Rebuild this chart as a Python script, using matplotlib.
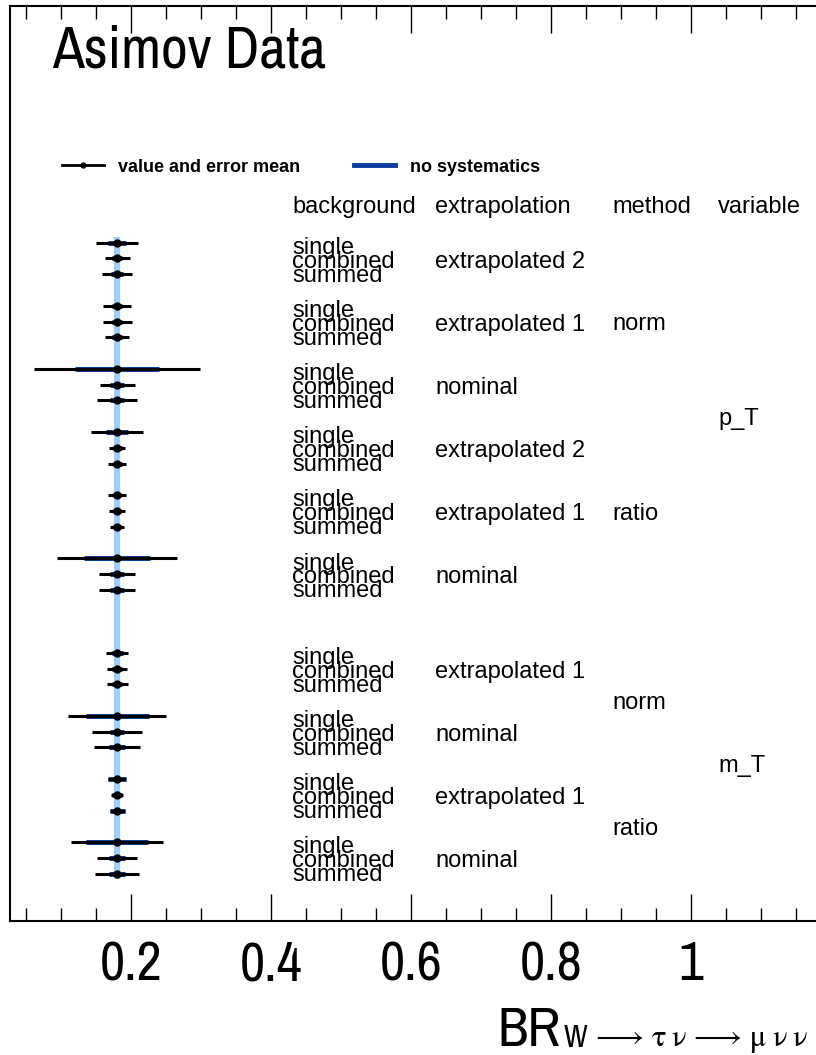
import matplotlib
matplotlib.use("Agg")
import matplotlib.pyplot as plt
from matplotlib import font_manager
from matplotlib.lines import Line2D
from matplotlib.ticker import MultipleLocator, FixedLocator, FixedFormatter

plt.rcParams['font.family'] = ['Liberation Sans', 'DejaVu Sans']
plt.rcParams['mathtext.fontset'] = 'stix'
plt.rcParams['mathtext.default'] = 'rm'

# ---- data -------------------------------------------------------------
backgrounds = ['single', 'combined', 'summed']
group_variable = ['p_T', 'p_T', 'p_T', 'p_T', 'p_T', 'p_T', 'm_T', 'm_T', 'm_T', 'm_T']
group_method = ['norm', 'norm', 'norm', 'ratio', 'ratio', 'ratio', 'norm', 'norm', 'ratio', 'ratio']
group_extrapolation = ['extrapolated 2', 'extrapolated 1', 'nominal',
                       'extrapolated 2', 'extrapolated 1', 'nominal',
                       'extrapolated 1', 'nominal',
                       'extrapolated 1', 'nominal']

# fitted branching ratio for each row (single, combined, summed per group)
br_value = [0.180, 0.180, 0.180,
            0.180, 0.180, 0.180,
            0.180, 0.180, 0.180,
            0.180, 0.180, 0.180,
            0.180, 0.180, 0.180,
            0.180, 0.180, 0.180,
            0.180, 0.180, 0.180,
            0.180, 0.180, 0.180,
            0.180, 0.180, 0.180,
            0.180, 0.180, 0.180]
# total uncertainty (value and error mean)
err_total = [0.0296, 0.0179, 0.0217,
             0.0205, 0.0207, 0.0168,
             0.1185, 0.0250, 0.0281,
             0.0365, 0.0115, 0.0129,
             0.0124, 0.0117, 0.0100,
             0.0860, 0.0257, 0.0262,
             0.0160, 0.0146, 0.0150,
             0.0705, 0.0355, 0.0326,
             0.0126, 0.0089, 0.0107,
             0.0655, 0.0283, 0.0312]
# statistical-only uncertainty (no systematics)
err_stat = [0.0133, 0.0070, 0.0085,
            0.0070, 0.0070, 0.0070,
            0.0596, 0.0096, 0.0100,
            0.0161, 0.0064, 0.0064,
            0.0057, 0.0057, 0.0057,
            0.0469, 0.0100, 0.0104,
            0.0079, 0.0071, 0.0071,
            0.0450, 0.0104, 0.0114,
            0.0126, 0.0071, 0.0107,
            0.0439, 0.0111, 0.0119]
br_reference = 0.180

xtick_values = [0.2, 0.4, 0.6, 0.8, 1.0]
xtick_labels = ['0.2', '0.4', '0.6', '0.8', '1']
column_titles = ['background', 'extrapolation', 'method', 'variable']

# ---- fonts --------------------------------------------------------------
# large labels use a narrow sans face when one is installed
narrow_path = None
for f in font_manager.fontManager.ttflist:
    if 'Narrow' in f.name and f.style == 'normal' and f.weight in (400, 'normal', 'regular'):
        narrow_path = f.fname
        break


def big_font(size):
    if narrow_path:
        return dict(fontproperties=font_manager.FontProperties(fname=narrow_path, size=size))
    return dict(family=['Liberation Sans', 'DejaVu Sans'], fontsize=size * 0.84)


if narrow_path:
    tick_size, tick_pad = 39.5, 14
else:
    tick_size, tick_pad = 34, 16

# ---- layout -----------------------------------------------------------
XMIN, XMAX = 0.0271, 1.2
YMIN, YMAX = 0.0, 58.0
PX_PER_UNIT = 700.0
FIG_W, FIG_H = 816, 1055

group_center = []
pos = 42.0
for i, var in enumerate(group_variable):
    if i > 0:
        pos -= 4.0
        if var != group_variable[i - 1]:
            pos -= 2.0
    group_center.append(pos)

row_y = []
for c in group_center:
    row_y.extend([c + 1, c, c - 1])

fig = plt.figure(figsize=(FIG_W / 100, FIG_H / 100), dpi=100)
ax_w = (XMAX - XMIN) * PX_PER_UNIT / FIG_W
ax = fig.add_axes([10 / FIG_W, 134 / FIG_H, ax_w, 915 / FIG_H])
ax.set_xlim(XMIN, XMAX)
ax.set_ylim(YMIN, YMAX)

dark_blue = '#0c3c9c'
light_blue = '#9fcffc'
black = '#000000'

# reference value band
ax.plot([br_reference, br_reference], [row_y[0] + 0.35, row_y[-1] - 0.35],
        color=light_blue, lw=4.5, solid_capstyle='butt', zorder=1)

for y, v, et, es in zip(row_y, br_value, err_total, err_stat):
    ax.plot([v - es, v + es], [y, y], color=dark_blue, lw=3.6,
            solid_capstyle='butt', zorder=2)
    ax.plot([v - et, v + et], [y, y], color=black, lw=2.2,
            solid_capstyle='butt', zorder=3)
    ax.plot([v], [y], marker='o', ms=5, color=black, zorder=4)

# ---- text table ---------------------------------------------------------
col_x = [0.430, 0.6343, 0.8871, 1.0386]
label_fs = 17
header_y = 44.9
for x, t in zip(col_x, column_titles):
    ax.text(x, header_y, t, fontsize=label_fs, va='baseline', ha='left')

for c, ext in zip(group_center, group_extrapolation):
    for k, b in zip([1, 0, -1], backgrounds):
        ax.text(col_x[0], c - 0.6 + 0.88 * k, b, fontsize=label_fs,
                va='baseline', ha='left')
    ax.text(col_x[1], c - 0.6, ext, fontsize=label_fs, va='baseline', ha='left')

seen = []
for var, meth in zip(group_variable, group_method):
    if (var, meth) in seen:
        continue
    seen.append((var, meth))
    cs = [c for c, v2, m2 in zip(group_center, group_variable, group_method)
          if v2 == var and m2 == meth]
    mid = (max(cs) + min(cs)) / 2
    ax.text(col_x[2], mid - 0.55, meth, fontsize=label_fs, va='baseline', ha='left')

for var in dict.fromkeys(group_variable):
    cs = [c for c, v2 in zip(group_center, group_variable) if v2 == var]
    mid = (max(cs) + min(cs)) / 2
    ax.text(col_x[3], mid - 0.55, var, fontsize=label_fs, va='baseline', ha='left')

# ---- axes styling --------------------------------------------------------
ax.xaxis.set_major_locator(FixedLocator(xtick_values))
ax.xaxis.set_major_formatter(FixedFormatter(xtick_labels))
ax.xaxis.set_minor_locator(MultipleLocator(0.05))
ax.tick_params(axis='x', which='major', direction='in', length=19.4, width=1.0,
               top=True, bottom=True, labelsize=tick_size, pad=tick_pad)
ax.tick_params(axis='x', which='minor', direction='in', length=9.4, width=1.0,
               top=True, bottom=True)
for lab in ax.get_xticklabels():
    if narrow_path:
        lab.set_fontproperties(font_manager.FontProperties(fname=narrow_path, size=tick_size))
ax.set_yticks([])
for s in ax.spines.values():
    s.set_linewidth(1.5)

# title
fig.text(52 / FIG_W, 1 - 68 / FIG_H, 'Asimov Data', va='baseline', ha='left',
         **big_font(42))

# legend
handles = [Line2D([], [], color=black, lw=2, marker='o', ms=3.5),
           Line2D([], [], color=dark_blue, lw=3.5)]
ax.legend(handles, ['value and error mean', 'no systematics'], ncol=2,
          loc='center left', bbox_to_anchor=(62 / FIG_W, 1 - 167 / FIG_H),
          bbox_transform=fig.transFigure, frameon=False, borderpad=0,
          borderaxespad=0, handlelength=2.3, handletextpad=0.78,
          columnspacing=3.0, prop={'weight': 'bold', 'size': 13})

# x-axis title with subscript
br = fig.text(497 / FIG_W, 1 - 1046 / FIG_H, 'BR', va='baseline', ha='left',
              **big_font(40))
sub_w = ax.annotate('W', xy=(1, 0), xycoords=br, xytext=(3, 9),
                    textcoords='offset pixels', va='baseline', ha='left',
                    annotation_clip=False, **big_font(22))
ax.annotate(r'$\,\longrightarrow\,\tau\;\nu\,\longrightarrow\,\mu\;\nu\;\nu$', xy=(1, 0),
            xycoords=sub_w, xytext=(0, 6), textcoords='offset pixels',
            fontsize=22, va='baseline', ha='left', annotation_clip=False)

fig.savefig('out.png', dpi=100)
